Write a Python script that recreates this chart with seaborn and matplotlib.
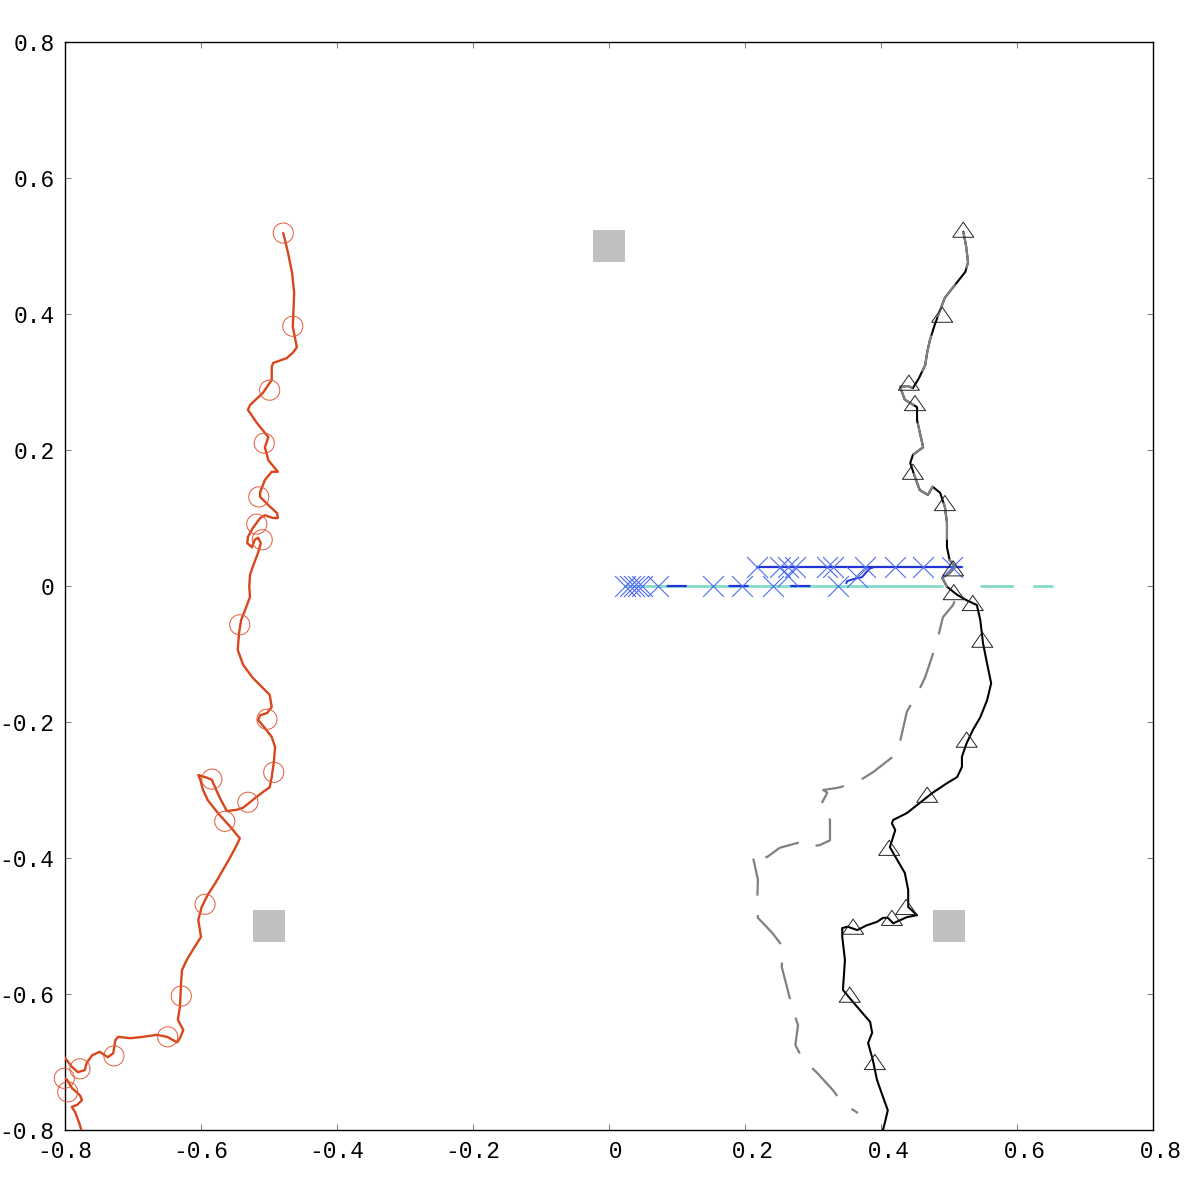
import numpy as np
import pandas as pd
import matplotlib
matplotlib.use("Agg")
import matplotlib.pyplot as plt
from matplotlib.path import Path
import seaborn as sns

# ---------------- data ----------------
# orange trajectory
orange_x = [-0.479, -0.472, -0.466, -0.463, -0.465, -0.459, -0.465, -0.474, -0.494, -0.496,
            -0.496, -0.509, -0.528, -0.531, -0.518, -0.501, -0.506, -0.501, -0.487, -0.496,
            -0.506, -0.513, -0.513, -0.501, -0.488, -0.487, -0.494, -0.506, -0.513, -0.524,
            -0.531, -0.532, -0.525, -0.521, -0.516, -0.512, -0.516, -0.524, -0.528, -0.529,
            -0.528, -0.535, -0.541, -0.544, -0.546, -0.538, -0.524, -0.509, -0.499, -0.496,
            -0.503, -0.513, -0.516, -0.506, -0.496, -0.491, -0.493, -0.496, -0.499, -0.509,
            -0.518, -0.528, -0.538, -0.547, -0.562, -0.572, -0.579, -0.584, -0.591, -0.604,
            -0.601, -0.597, -0.590, -0.575, -0.557, -0.543, -0.546, -0.557, -0.568, -0.579,
            -0.590, -0.599, -0.604, -0.600, -0.612, -0.621, -0.628, -0.629, -0.631, -0.634,
            -0.626, -0.631, -0.635, -0.650, -0.665, -0.685, -0.704, -0.722, -0.726, -0.729,
            -0.737, -0.749, -0.760, -0.768, -0.771, -0.781, -0.790, -0.800, -0.810, -0.819,
            -0.807, -0.797, -0.790, -0.778, -0.775, -0.782, -0.790, -0.785, -0.779, -0.776]
orange_y = [0.519, 0.490, 0.460, 0.431, 0.381, 0.351, 0.343, 0.335, 0.328, 0.322,
            0.303, 0.284, 0.266, 0.259, 0.240, 0.219, 0.204, 0.185, 0.168, 0.168,
            0.156, 0.138, 0.131, 0.119, 0.107, 0.100, 0.100, 0.104, 0.100, 0.085,
            0.072, 0.063, 0.057, 0.068, 0.071, 0.063, 0.049, 0.028, 0.016, -0.001,
            -0.016, -0.035, -0.050, -0.069, -0.094, -0.116, -0.135, -0.150, -0.160, -0.178,
            -0.187, -0.190, -0.197, -0.209, -0.222, -0.237, -0.260, -0.281, -0.296, -0.303,
            -0.310, -0.318, -0.326, -0.329, -0.331, -0.312, -0.297, -0.285, -0.282, -0.278,
            -0.285, -0.300, -0.315, -0.334, -0.354, -0.371, -0.378, -0.399, -0.418, -0.437,
            -0.454, -0.472, -0.491, -0.516, -0.535, -0.550, -0.565, -0.579, -0.619, -0.638,
            -0.653, -0.665, -0.671, -0.663, -0.660, -0.663, -0.665, -0.663, -0.668, -0.687,
            -0.693, -0.685, -0.690, -0.701, -0.712, -0.715, -0.707, -0.694, -0.685, -0.700,
            -0.719, -0.726, -0.738, -0.749, -0.756, -0.763, -0.766, -0.774, -0.790, -0.800]
orange_mark_x = [-0.479, -0.465, -0.499, -0.507, -0.515, -0.518, -0.510, -0.543, -0.503, -0.493,
                 -0.584, -0.531, -0.565, -0.594, -0.629, -0.649, -0.728, -0.778, -0.801, -0.796]
orange_mark_y = [0.519, 0.382, 0.288, 0.210, 0.131, 0.091, 0.068, -0.057, -0.196, -0.274,
                 -0.284, -0.318, -0.346, -0.468, -0.603, -0.663, -0.691, -0.710, -0.724, -0.744]

# black trajectory (solid)
black_x = [0.521, 0.525, 0.528, 0.524, 0.509, 0.494, 0.487, 0.479, 0.472, 0.468,
           0.465, 0.456, 0.447, 0.440, 0.428, 0.435, 0.453, 0.453, 0.462, 0.447,
           0.443, 0.450, 0.457, 0.469, 0.476, 0.487, 0.494, 0.497, 0.497, 0.501,
           0.509, 0.501, 0.490, 0.497, 0.512, 0.526, 0.541, 0.546, 0.550, 0.557,
           0.562, 0.556, 0.546, 0.535, 0.526, 0.519, 0.519, 0.512, 0.497, 0.476,
           0.457, 0.438, 0.418, 0.416, 0.421, 0.413, 0.424, 0.435, 0.440, 0.440,
           0.453, 0.438, 0.418, 0.410, 0.403, 0.394, 0.379, 0.365, 0.351, 0.343,
           0.343, 0.347, 0.344, 0.354, 0.365, 0.384, 0.387, 0.381, 0.388, 0.394,
           0.401, 0.410, 0.406, 0.401]
black_y = [0.521, 0.501, 0.476, 0.462, 0.443, 0.424, 0.406, 0.384, 0.362, 0.344,
           0.325, 0.306, 0.291, 0.294, 0.293, 0.274, 0.263, 0.244, 0.204, 0.193,
           0.181, 0.160, 0.141, 0.134, 0.146, 0.137, 0.116, 0.093, 0.057, 0.038,
           0.028, 0.019, 0.012, -0.001, -0.013, -0.021, -0.028, -0.050, -0.084, -0.119,
           -0.143, -0.168, -0.193, -0.212, -0.231, -0.251, -0.266, -0.281, -0.290, -0.304,
           -0.319, -0.334, -0.344, -0.349, -0.359, -0.384, -0.403, -0.422, -0.447, -0.472,
           -0.484, -0.487, -0.496, -0.488, -0.488, -0.494, -0.499, -0.506, -0.501, -0.503,
           -0.516, -0.550, -0.594, -0.606, -0.619, -0.641, -0.657, -0.672, -0.697, -0.726,
           -0.746, -0.771, -0.788, -0.807]
tri_x = [0.521, 0.490, 0.441, 0.450, 0.447, 0.494, 0.506, 0.507, 0.535, 0.549,
         0.526, 0.468, 0.412, 0.437, 0.416, 0.359, 0.354, 0.391]
tri_y = [0.524, 0.399, 0.299, 0.269, 0.168, 0.122, 0.026, -0.009, -0.025, -0.079,
         -0.226, -0.307, -0.385, -0.472, -0.488, -0.501, -0.601, -0.700]

# gray trajectory (dashed): shares the upper part of the black one
gray_x = black_x[:35] + [0.506, 0.491, 0.484, 0.475, 0.465, 0.454, 0.438, 0.431, 0.424, 0.388,
                         0.362, 0.335, 0.315, 0.321, 0.310, 0.325, 0.325, 0.310, 0.291, 0.284,
                         0.251, 0.232, 0.222, 0.212, 0.212, 0.219, 0.218, 0.219, 0.240, 0.256,
                         0.254, 0.262, 0.269, 0.278, 0.274, 0.284, 0.306, 0.329, 0.343, 0.366]
gray_y = black_y[:35] + [-0.028, -0.046, -0.075, -0.104, -0.134, -0.157, -0.185, -0.216, -0.246, -0.274,
                         -0.290, -0.297, -0.300, -0.304, -0.325, -0.344, -0.374, -0.381, -0.384, -0.376,
                         -0.385, -0.399, -0.391, -0.393, -0.400, -0.432, -0.462, -0.488, -0.510, -0.531,
                         -0.560, -0.591, -0.619, -0.646, -0.675, -0.694, -0.716, -0.741, -0.760, -0.775]

# blue trajectories
blue_upper_x = [0.218, 0.519]
blue_upper_y = [0.028, 0.028]
blue_wiggle_x = [0.349, 0.350, 0.359, 0.372, 0.379, 0.384, 0.391]
blue_wiggle_y = [0.004, 0.007, 0.010, 0.013, 0.021, 0.026, 0.028]
blue_lower_x = [0.024, 0.349]
blue_lower_y = [0.0, 0.0]
blue_mark_x = [0.024, 0.031, 0.037, 0.043, 0.049, 0.072, 0.153, 0.196, 0.241, 0.337,
               0.218, 0.251, 0.263, 0.274, 0.321, 0.329, 0.376, 0.421, 0.462, 0.504,
               0.263, 0.365]
blue_mark_y = [0.0, 0.0, 0.0, 0.0, 0.0, 0.0, 0.0, 0.0, 0.0, 0.0,
               0.028, 0.028, 0.028, 0.028, 0.028, 0.028, 0.028, 0.028, 0.028, 0.028,
               0.015, 0.013]

# cyan trajectory
cyan_x = [0.024, 0.490]
cyan_y = [0.0, 0.0]
cyan_tail_x = [0.546, 0.653]
cyan_tail_y = [0.0, 0.0]

# gray squares
square_x = [0.0, -0.5, 0.5]
square_y = [0.5, -0.5, -0.5]

ticks = [-0.8, -0.6, -0.4, -0.2, 0.0, 0.2, 0.4, 0.6, 0.8]
x_tick_labels = ["-0.8", "-0.6", "-0.4", "-0.2", " 0", " 0.2", " 0.4", " 0.6", " 0.8"]
y_tick_labels = ["-0.8", "-0.6", "-0.4", "-0.2", "0", "0.2", "0.4", "0.6", "0.8"]

# ---------------- style ----------------
sns.set_theme(style="white")
plt.rcParams["font.family"] = ["Liberation Mono", "DejaVu Sans Mono"]
plt.rcParams["axes.unicode_minus"] = False
plt.rcParams["lines.scale_dashes"] = False

fig = plt.figure(figsize=(11.86, 11.86), dpi=100)
ax = fig.add_axes([65 / 1186, 56 / 1186, 1088 / 1186, 1088 / 1186])

def line(x, y, color, lw, ls="-", z=2):
    sns.lineplot(x=x, y=y, sort=False, estimator=None, color=color, linewidth=lw,
                 linestyle=ls, ax=ax, zorder=z)

def marks(x, y, marker, size, color, lw, hollow=True, z=5, clip=True):
    sns.scatterplot(x=x, y=y, marker=marker, s=size, color=color, linewidth=lw, ax=ax,
                    zorder=z, legend=False)
    coll = ax.collections[-1]
    if hollow:
        coll.set_facecolor("none")
    coll.set_edgecolor(color)
    coll.set_linewidth(lw)
    coll.set_clip_on(clip)

# squares
sns.scatterplot(x=square_x, y=square_y, marker="s", s=560, color="#c0c0c0",
                linewidth=0, ax=ax, zorder=1, legend=False)

# cyan + blue
line(cyan_x, cyan_y, "#86d9cb", 2.0, z=2)
line(cyan_tail_x, cyan_tail_y, "#86d9cb", 2.0, ls=(0, (24, 14)), z=2)
line(blue_lower_x, blue_lower_y, "#2233d8", 1.6, ls=(14.5, (14.5, 30)), z=3)
line(blue_upper_x, blue_upper_y, "#2233d8", 1.6, z=3)
line(blue_wiggle_x, blue_wiggle_y, "#2233d8", 1.4, z=3)
marks(blue_mark_x, blue_mark_y, "x", 225, "#4f6cf0", 0.8, hollow=False, z=4)

# black + gray
tri_marker = Path([(-1, -0.72), (1, -0.72), (0, 0.72), (-1, -0.72)],
                  [Path.MOVETO, Path.LINETO, Path.LINETO, Path.CLOSEPOLY])
line(black_x, black_y, "black", 1.5, z=3)
line(gray_x, gray_y, "#808080", 1.6, ls=(0, (27, 14)), z=3.5)
marks(tri_x, tri_y, tri_marker, 230, "#222222", 0.7, z=5)

# orange
line(orange_x, orange_y, "#d9461c", 1.7, z=3)
marks(orange_mark_x, orange_mark_y, "o", 210, "#e05a3a", 0.7, z=5, clip=False)

# ---------------- axes ----------------
ax.set_xlim(-0.8, 0.8)
ax.set_ylim(-0.8, 0.8)
ax.set_xticks(ticks)
ax.set_xticklabels(x_tick_labels)
ax.set_yticks(ticks)
ax.set_yticklabels(y_tick_labels)
ax.set_xlabel("")
ax.set_ylabel("")
for s in ax.spines.values():
    s.set_visible(True)
    s.set_color("black")
    s.set_linewidth(1.0)
ax.tick_params(axis="both", which="both", direction="in", length=4.5, width=0.7,
               color="#777777", top=True, right=True, labelsize=16.5,
               labelcolor="black", bottom=True, left=True)
ax.tick_params(axis="x", pad=7)
ax.tick_params(axis="y", pad=7.5)

fig.savefig("out.png", dpi=100, facecolor="white")
